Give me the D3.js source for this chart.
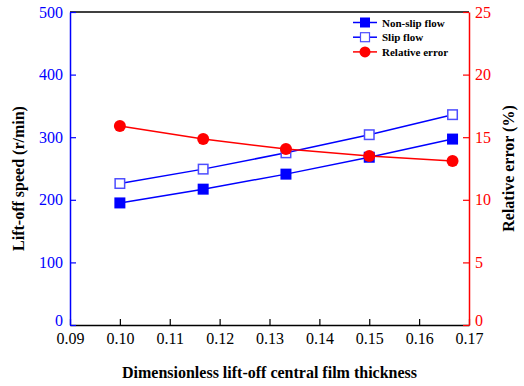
<!DOCTYPE html>
<html>
<head>
<meta charset="utf-8">
<script src="https://cdn.jsdelivr.net/npm/d3@7"></script>
<style>
  html, body { margin: 0; padding: 0; background: #fff; }
  svg { display: block; }
  svg text { font-family: "Liberation Serif", "Times New Roman", serif; }
</style>
</head>
<body>
<svg id="chart" width="524" height="386"></svg>
<script>
// Film thickness (dimensionless) at which lift-off was evaluated
const thickness = [0.1, 0.1167, 0.1333, 0.15, 0.1667];
// Lift-off speed, r/min
const nonSlipSpeed = [195, 217, 241, 268, 297];
const slipSpeed = [226, 249, 275, 304, 336];
// Relative error between the two models, %
const relativeError = [15.9, 14.85, 14.05, 13.5, 13.1];

const xTicks = [0.09, 0.10, 0.11, 0.12, 0.13, 0.14, 0.15, 0.16, 0.17];
const leftTicks = [0, 100, 200, 300, 400, 500];
const rightTicks = [0, 5, 10, 15, 20, 25];

const BLUE = "#0000ff", RED = "#ff0000";
const SERIF = "'Liberation Serif', 'Times New Roman', serif";
const svg = d3.select("#chart");
const m = { left: 70, right: 469, top: 12, bottom: 325 };

const x = d3.scaleLinear().domain([0.09, 0.17]).range([m.left, m.right]);
const yL = d3.scaleLinear().domain([0, 500]).range([m.bottom, m.top]);
const yR = d3.scaleLinear().domain([0, 25]).range([m.bottom, m.top]);

// Top frame line
svg.append("line")
  .attr("x1", m.left).attr("x2", m.right)
  .attr("y1", m.top).attr("y2", m.top)
  .attr("stroke", "#000").attr("stroke-width", 1.5);

function styleAxis(g, color) {
  g.attr("font-family", null).attr("font-size", null);
  g.select(".domain").attr("stroke", color).attr("stroke-width", 1.5);
  g.selectAll(".tick line").attr("stroke", color).attr("stroke-width", 1.2);
  g.selectAll(".tick text").attr("fill", color)
    .style("font-family", SERIF).style("font-size", "16px").style("font-weight", "normal");
  // lift the zero label a little so it clears the bottom tick labels
  g.selectAll(".tick text").filter(d => d === 0).attr("dy", "0.05em");
}

// Bottom axis, ticks pointing inward
const gx = svg.append("g").attr("transform", `translate(0,${m.bottom})`)
  .call(d3.axisBottom(x).tickValues(xTicks).tickFormat(d3.format(".2f"))
    .tickSizeInner(-6).tickSizeOuter(0).tickPadding(8));
styleAxis(gx, "#000");

// Left axis (speed)
const gl = svg.append("g").attr("transform", `translate(${m.left},0)`)
  .call(d3.axisLeft(yL).tickValues(leftTicks)
    .tickSizeInner(-6).tickSizeOuter(0).tickPadding(7));
styleAxis(gl, BLUE);

// Right axis (relative error)
const gr = svg.append("g").attr("transform", `translate(${m.right},0)`)
  .call(d3.axisRight(yR).tickValues(rightTicks)
    .tickSizeInner(-6).tickSizeOuter(0).tickPadding(6));
styleAxis(gr, RED);

// Axis titles
svg.append("text")
  .attr("x", (m.left + m.right) / 2).attr("y", 378)
  .attr("text-anchor", "middle").attr("font-size", 16).attr("font-weight", "bold")
  .text("Dimensionless lift-off central film thickness");
svg.append("text")
  .attr("transform", `translate(24,${(m.top + m.bottom) / 2 + 10}) rotate(-90)`)
  .attr("text-anchor", "middle").attr("font-size", 16).attr("font-weight", "bold")
  .text("Lift-off speed (r/min)");
svg.append("text")
  .attr("transform", `translate(514,${(m.top + m.bottom) / 2}) rotate(-90)`)
  .attr("text-anchor", "middle").attr("font-size", 16).attr("font-weight", "bold")
  .text("Relative error (%)");

const SQ = 11;
const lineL = d3.line().x((d, i) => x(thickness[i])).y(d => yL(d));
const lineR = d3.line().x((d, i) => x(thickness[i])).y(d => yR(d));

// Non-slip series
svg.append("path").datum(nonSlipSpeed).attr("d", lineL)
  .attr("fill", "none").attr("stroke", BLUE).attr("stroke-width", 1.5);
svg.selectAll(".nonslip").data(nonSlipSpeed).join("rect")
  .attr("x", (d, i) => x(thickness[i]) - SQ / 2).attr("y", d => yL(d) - SQ / 2)
  .attr("width", SQ).attr("height", SQ).attr("fill", BLUE);

// Slip series
svg.append("path").datum(slipSpeed).attr("d", lineL)
  .attr("fill", "none").attr("stroke", BLUE).attr("stroke-width", 1.5);
svg.selectAll(".slip").data(slipSpeed).join("rect")
  .attr("x", (d, i) => x(thickness[i]) - SQ / 2 + 0.75).attr("y", d => yL(d) - SQ / 2 + 0.75)
  .attr("width", SQ - 1.5).attr("height", SQ - 1.5)
  .attr("fill", "#fff").attr("stroke", "#4d4dff").attr("stroke-width", 1.5);

// Relative error series
svg.append("path").datum(relativeError).attr("d", lineR)
  .attr("fill", "none").attr("stroke", RED).attr("stroke-width", 1.5);
svg.selectAll(".err").data(relativeError).join("circle")
  .attr("cx", (d, i) => x(thickness[i])).attr("cy", d => yR(d))
  .attr("r", 6).attr("fill", RED);

// Legend
const legend = [
  { label: "Non-slip flow", color: BLUE, shape: "filled" },
  { label: "Slip flow", color: BLUE, shape: "hollow" },
  { label: "Relative error", color: RED, shape: "circle" }
];
const lg = svg.append("g");
legend.forEach((d, i) => {
  const cy = 22.5 + i * 14.7, cx = 365;
  lg.append("line").attr("x1", cx - 12).attr("x2", cx + 12).attr("y1", cy).attr("y2", cy)
    .attr("stroke", d.color).attr("stroke-width", 1.5);
  if (d.shape === "filled") {
    lg.append("rect").attr("x", cx - 5).attr("y", cy - 5).attr("width", 10).attr("height", 10)
      .attr("fill", d.color);
  } else if (d.shape === "hollow") {
    lg.append("rect").attr("x", cx - 4.5).attr("y", cy - 4.5).attr("width", 9).attr("height", 9)
      .attr("fill", "#fff").attr("stroke", "#4d4dff").attr("stroke-width", 1.2);
  } else {
    lg.append("circle").attr("cx", cx).attr("cy", cy).attr("r", 5.5).attr("fill", d.color);
  }
  lg.append("text").attr("x", 382).attr("y", cy + 4)
    .attr("font-size", 11).attr("font-weight", "bold").text(d.label);
});
</script>
</body>
</html>
